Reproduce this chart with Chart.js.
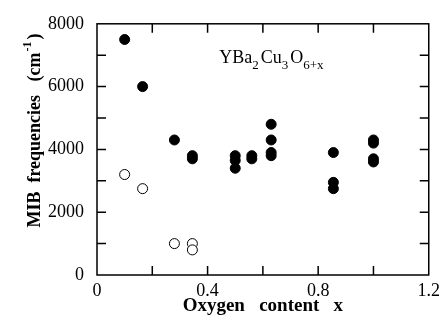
<!DOCTYPE html>
<html>
<head>
<meta charset="utf-8">
<script src="https://cdn.jsdelivr.net/npm/chart.js@4"></script>
<style>
  html, body { margin: 0; padding: 0; background: #fff; }
  #wrap { width: 445px; height: 322px; }
</style>
</head>
<body>
<div id="wrap"><canvas id="mibChart" width="445" height="322"></canvas></div>
<script>
// Oxygen content x for the filled (solid) points and their frequencies
const filledX = [0.10, 0.165, 0.28, 0.345, 0.345, 0.50, 0.50, 0.50, 0.56, 0.56,
                 0.63, 0.63, 0.63, 0.63, 0.855, 0.855, 0.855, 1.00, 1.00, 1.00, 1.00];
const filledY = [7500, 6000, 4300, 3800, 3700, 3800, 3650, 3400, 3800, 3700,
                 4800, 4300, 3900, 3800, 3900, 2950, 2750, 4300, 4200, 3700, 3600];

// open circles
const openX = [0.10, 0.165, 0.28, 0.345, 0.345];
const openY = [3200, 2750, 1000, 1000, 800];

// tick labels and tick mark positions
const xTickLabels = ['0', '0.4', '0.8', '1.2'];
const yTickLabels = ['0', '2000', '4000', '6000', '8000'];
const xTickMarks = [0.2, 0.4, 0.6, 0.8, 1.0];
const yTickMarks = [1000, 2000, 3000, 4000, 5000, 6000, 7000];

const xTitle = 'Oxygen   content   x';
const yTitle = 'MIB  frequencies   (cm';
const yTitleSup = '-1';
const formulaParts = [['YBa', 0], ['2', 1], ['Cu', 0], ['3', 1], ['O', 0], ['6+x', 1]];

const SERIF = '"Liberation Serif", "Times New Roman", serif';

function toPoints(xs, ys) {
    return xs.map((x, i) => ({x: x, y: ys[i]}));
}

// frame, inward ticks on all sides, formula and y title
const framePlugin = {
    id: 'frame',
    afterDraw(chart) {
        const ctx = chart.ctx;
        const a = chart.chartArea;
        const xs = chart.scales.x, ys = chart.scales.y;
        const len = 9;
        ctx.save();
        ctx.strokeStyle = '#000';
        ctx.lineWidth = 1.5;
        ctx.strokeRect(a.left, a.top, a.right - a.left, a.bottom - a.top);
        ctx.beginPath();
        xTickMarks.forEach(v => {
            const px = xs.getPixelForValue(v);
            ctx.moveTo(px, a.bottom); ctx.lineTo(px, a.bottom - len);
            ctx.moveTo(px, a.top); ctx.lineTo(px, a.top + len);
        });
        yTickMarks.forEach(v => {
            const py = ys.getPixelForValue(v);
            ctx.moveTo(a.left, py); ctx.lineTo(a.left + len, py);
            ctx.moveTo(a.right, py); ctx.lineTo(a.right - len, py);
        });
        ctx.stroke();

        // chemical formula
        ctx.fillStyle = '#000';
        ctx.textBaseline = 'alphabetic';
        ctx.textAlign = 'left';
        let fx = xs.getPixelForValue(0.442);
        const fy = ys.getPixelForValue(6740);
        formulaParts.forEach(([txt, sub]) => {
            ctx.font = sub ? '13px ' + SERIF : '18px ' + SERIF;
            ctx.fillText(txt, fx, fy + (sub ? 6 : 0));
            fx += ctx.measureText(txt).width + (sub ? 2 : 0);
        });

        // y axis title, rotated, with superscript
        ctx.translate(35, 131);
        ctx.rotate(-Math.PI / 2);
        ctx.font = 'bold 18px ' + SERIF;
        const w1 = ctx.measureText(yTitle).width;
        ctx.font = 'bold 12px ' + SERIF;
        const w2 = ctx.measureText(yTitleSup).width + 2;
        ctx.font = 'bold 18px ' + SERIF;
        const w3 = ctx.measureText(')').width;
        let tx = -(w1 + w2 + w3) / 2;
        ctx.textBaseline = 'middle';
        ctx.fillText(yTitle, tx, 0);
        tx += w1 + 1;
        ctx.font = 'bold 12px ' + SERIF;
        ctx.fillText(yTitleSup, tx, -7);
        tx += w2;
        ctx.font = 'bold 18px ' + SERIF;
        ctx.fillText(')', tx, 0);
        ctx.restore();
    }
};

const ctx = document.getElementById('mibChart').getContext('2d');
new Chart(ctx, {
    type: 'scatter',
    data: {
        datasets: [
            {
                label: 'filled',
                data: toPoints(filledX, filledY),
                pointRadius: 5,
                pointBackgroundColor: '#000',
                pointBorderColor: '#000',
                pointBorderWidth: 1
            },
            {
                label: 'open',
                data: toPoints(openX, openY),
                pointRadius: 5,
                pointBackgroundColor: '#fff',
                pointBorderColor: '#000',
                pointBorderWidth: 1
            }
        ]
    },
    options: {
        responsive: false,
        animation: false,
        layout: {
            padding: {top: 22, right: 13, left: 0, bottom: 0}
        },
        plugins: {
            legend: {display: false},
            tooltip: {enabled: false}
        },
        scales: {
            x: {
                type: 'linear',
                min: 0,
                max: 1.2,
                grid: {display: false, drawTicks: false},
                border: {display: false},
                ticks: {
                    stepSize: 0.4,
                    padding: 5,
                    color: '#000',
                    font: {family: SERIF, size: 18},
                    callback: (v, i) => xTickLabels[i]
                },
                title: {
                    display: true,
                    text: xTitle,
                    color: '#000',
                    font: {family: SERIF, size: 19, weight: 'bold'},
                    padding: {top: 0, bottom: 5}
                },
                afterFit: (scale) => { scale.height = 47; }
            },
            y: {
                type: 'linear',
                min: 0,
                max: 8000,
                grid: {display: false, drawTicks: false},
                border: {display: false},
                ticks: {
                    stepSize: 2000,
                    padding: 13,
                    color: '#000',
                    font: {family: SERIF, size: 18},
                    callback: (v, i) => yTickLabels[i]
                },
                afterFit: (scale) => { scale.width = 97; }
            }
        }
    },
    plugins: [framePlugin]
});
</script>
</body>
</html>
